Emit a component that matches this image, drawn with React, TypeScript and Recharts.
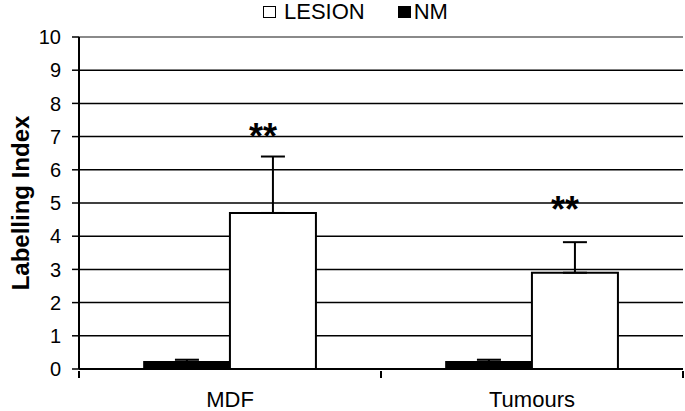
import React from "react";
import {
  BarChart,
  Bar,
  XAxis,
  YAxis,
  CartesianGrid,
  ErrorBar,
  LabelList,
  Legend,
  ReferenceLine,
} from "recharts";

const categories = ["MDF", "Tumours"];
const nmValues = [0.22, 0.22];
const nmErrors = [0.06, 0.06];
const lesionValues = [4.7, 2.9];
const lesionErrors = [1.7, 0.92];
const starLabels = ["**", "**"];
const starLevels = [7.1, 4.9];
const yTicks = [0, 1, 2, 3, 4, 5, 6, 7, 8, 9, 10];

const FONT = "Arial, 'Liberation Sans', Helvetica, sans-serif";

const data = categories.map((name, i) => ({
  name,
  nm: nmValues[i],
  nmErr: [0, nmErrors[i]],
  lesion: lesionValues[i],
  lesionErr: [0, lesionErrors[i]],
}));

function LegendBox() {
  return (
    <div
      style={{
        position: "relative",
        top: -10,
        display: "flex",
        justifyContent: "flex-start",
        alignItems: "center",
        height: 30,
        fontFamily: FONT,
        fontSize: 22,
        color: "#000",
        paddingLeft: 263,
      }}
    >
      <span
        style={{
          display: "inline-block",
          boxSizing: "border-box",
          width: 13,
          height: 12,
          border: "1.5px solid #000",
          background: "#fff",
          marginRight: 8,
          flexShrink: 0,
        }}
      />
      <span style={{ display: "inline-block", marginRight: 33 }}>LESION</span>
      <span
        style={{
          display: "inline-block",
          width: 13,
          height: 12,
          background: "#000",
          marginRight: 3,
          flexShrink: 0,
        }}
      />
      <span style={{ display: "inline-block" }}>NM</span>
    </div>
  );
}

function CategoryTick(props: any) {
  const { x, y, payload } = props;
  const half = payload && payload.offset ? payload.offset : 151;
  return (
    <g>
      {payload.index === 0 && (
        <line x1={x - half} x2={x - half} y1={y} y2={y + 7} stroke="#000" strokeWidth={2} />
      )}
      <line x1={x + half} x2={x + half} y1={y} y2={y + 7} stroke="#000" strokeWidth={2} />
      <text
        x={x}
        y={y + 36}
        textAnchor="middle"
        fontFamily={FONT}
        fontSize={22}
        fill="#000"
      >
        {payload.value}
      </text>
    </g>
  );
}

function StarLabel(props: any) {
  const { x, y, width, height, index } = props;
  const i = typeof index === "number" ? index : 0;
  const perUnit = height / lesionValues[i];
  const base = y + height;
  const sy = base - starLevels[i] * perUnit;
  return (
    <text
      x={x + width / 2 - 10}
      y={sy + 16}
      textAnchor="middle"
      fontFamily={FONT}
      fontSize={36}
      fontWeight="bold"
      fill="#000"
    >
      {starLabels[i]}
    </text>
  );
}

export default function App() {
  return (
    <div style={{ position: "absolute", left: 0, top: 0, width: 685, height: 411, background: "#fff" }}>
      <BarChart
        width={685}
        height={411}
        data={data}
        margin={{ top: 7, right: 2, left: 0, bottom: 12 }}
        barCategoryGap="21.5%"
        barGap={0}
      >
        <Legend verticalAlign="top" align="left" content={() => <LegendBox />} />
        <CartesianGrid horizontal vertical={false} stroke="#000" strokeWidth={1.5} />
        <XAxis
          dataKey="name"
          axisLine={{ stroke: "#000", strokeWidth: 2 }}
          tickLine={false}
          tickSize={0}
          tick={<CategoryTick />}
          height={30}
          interval={0}
        />
        <YAxis
          domain={[0, 10]}
          ticks={yTicks}
          interval={0}
          width={79}
          axisLine={{ stroke: "#000", strokeWidth: 2 }}
          tickLine={{ stroke: "#000", strokeWidth: 1.5 }}
          tickSize={7}
          tickMargin={11}
          tick={{ fontFamily: FONT, fontSize: 20, fill: "#000" }}
          label={{
            value: "Labelling Index",
            angle: -90,
            position: "insideLeft",
            offset: 20,
            style: { textAnchor: "middle", fontFamily: FONT, fontSize: 24, fontWeight: "bold", fill: "#000" },
          }}
        />
        <YAxis
          yAxisId="frame"
          orientation="right"
          width={0}
          domain={[0, 10]}
          tick={false}
          tickLine={false}
          axisLine={{ stroke: "#8a8a8a", strokeWidth: 2 }}
        />
        <ReferenceLine y={10} stroke="#8a8a8a" strokeWidth={2} />
        <Bar dataKey="nm" fill="#000" stroke="#000" strokeWidth={1.5} isAnimationActive={false}>
          <ErrorBar dataKey="nmErr" width={12} stroke="#000" strokeWidth={2} direction="y" />
        </Bar>
        <Bar dataKey="lesion" fill="#fff" stroke="#000" strokeWidth={2} isAnimationActive={false}>
          <ErrorBar dataKey="lesionErr" width={12} stroke="#000" strokeWidth={2} direction="y" />
          <LabelList dataKey="lesion" content={<StarLabel />} />
        </Bar>
      </BarChart>
    </div>
  );
}
